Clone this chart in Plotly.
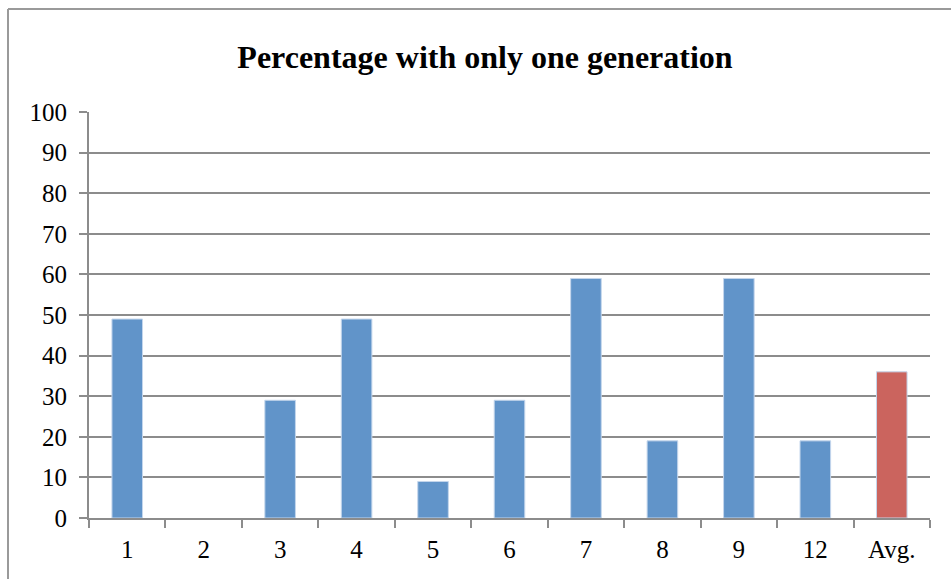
import plotly.graph_objects as go

# Share of respondents with only one generation, per group plus the average
categories = ["1", "2", "3", "4", "5", "6", "7", "8", "9", "12", "Avg."]
values = [49, 0, 29, 49, 9, 29, 59, 19, 59, 19, 36]
bar_colors = ["#6194C9"] * 10 + ["#CB645E"]
y_ticks = list(range(0, 101, 10))

W, H = 951, 579
L, R, T, B = 89, 21, 112, 61
plot_w = W - L - R
plot_h = H - T - B

def px_x(p):
    return (p - L) / plot_w

def px_y(p):
    return (H - B - p) / plot_h

axis_grey = "#8C8C8C"
font_family = "Liberation Serif, Times New Roman, serif"

# no outline on empty bars so nothing is drawn for them
edge_widths = [1 if v > 0 else 0 for v in values]

fig = go.Figure(
    go.Bar(
        x=categories,
        y=values,
        marker=dict(color=bar_colors, line=dict(color="#C4D6EC", width=edge_widths)),
        width=0.4,
    )
)

fig.update_layout(
    width=W,
    height=H,
    margin=dict(l=L, r=R, t=T, b=B),
    paper_bgcolor="white",
    plot_bgcolor="white",
    showlegend=False,
    font=dict(family=font_family, color="black", size=25),
    title=dict(
        text="<b>Percentage with only one generation</b>",
        x=px_x(485),
        xref="paper",
        xanchor="center",
        y=1 - 57 / H,
        yanchor="middle",
        font=dict(family=font_family, size=32, color="black"),
    ),
    bargap=0.6,
    xaxis=dict(
        type="category",
        showline=True,
        linecolor=axis_grey,
        linewidth=2,
        ticks="outside",
        tickson="boundaries",
        ticklen=8,
        tickwidth=2,
        tickcolor=axis_grey,
        showgrid=False,
        tickfont=dict(size=25),
        ticklabelstandoff=8,
    ),
    yaxis=dict(
        range=[0, 100],
        tickvals=y_ticks,
        showline=True,
        linecolor=axis_grey,
        linewidth=2,
        ticks="outside",
        ticklen=8,
        tickwidth=2,
        tickcolor=axis_grey,
        showgrid=True,
        gridcolor=axis_grey,
        gridwidth=2,
        zeroline=False,
        tickfont=dict(size=25),
        ticklabelstandoff=7,
    ),
    shapes=[
        # chart frame (top and left edges; the others fall outside the page)
        dict(type="line", xref="paper", yref="paper",
             x0=px_x(8), x1=px_x(970), y0=px_y(9), y1=px_y(9),
             line=dict(color="#9A9A9A", width=2)),
        dict(type="line", xref="paper", yref="paper",
             x0=px_x(8), x1=px_x(8), y0=px_y(9), y1=px_y(600),
             line=dict(color="#9A9A9A", width=2)),
    ],
)

fig.write_html("out.html")
